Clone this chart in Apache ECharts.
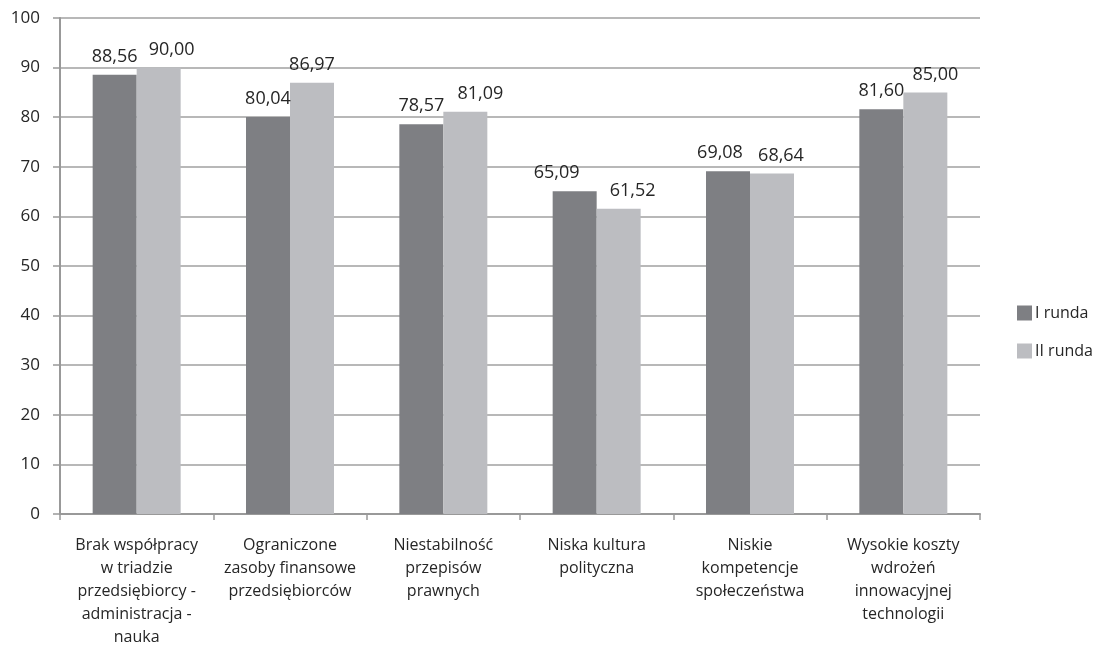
<!DOCTYPE html>
<html>
<head>
<meta charset="utf-8">
<script src="https://cdn.jsdelivr.net/npm/echarts@6/dist/echarts.min.js"></script>
<style>
    html, body { margin: 0; padding: 0; background: #fff; }
    #chart { width: 1094px; height: 649px; }
</style>
</head>
<body>
<div id="chart"></div>
<script>
    // kategorie (osie X)
    const categories = [
        'Brak współpracy\nw triadzie\nprzedsiębiorcy -\nadministracja -\nnauka',
        'Ograniczone\nzasoby finansowe\nprzedsiębiorców',
        'Niestabilność\nprzepisów\nprawnych',
        'Niska kultura\npolityczna',
        'Niskie\nkompetencje\nspołeczeństwa',
        'Wysokie koszty\nwdrożeń\ninnowacyjnej\ntechnologii'
    ];
    const round1 = [88.56, 80.04, 78.57, 65.09, 69.08, 81.60];
    const round2 = [90.00, 86.97, 81.09, 61.52, 68.64, 85.00];
    const seriesNames = ['I runda', 'II runda'];

    // przesunięcia etykiet (ręcznie rozsunięte jak w oryginale)
    const labelShift1 = [0, 0, 0, -18, -8, 0];
    const labelShift2 = [13, 0, 15, 14, 9, 10];

    const font = 'Open Sans, Noto Sans, sans-serif';
    const chart = echarts.init(document.getElementById('chart'));

    const labelCfg = {
        show: true,
        position: 'top',
        distance: 9,
        color: '#262626',
        fontFamily: font,
        fontSize: 18,
        formatter: (p) => p.value.toFixed(2).replace('.', ',')
    };

    const toItems = (values, shifts) => values.map((v, i) => ({
        value: v,
        label: { offset: [shifts[i], 0] }
    }));

    chart.setOption({
        animation: false,
        grid: {
            left: 60,
            right: 114,
            top: 18,
            bottom: 134
        },
        legend: {
            orient: 'vertical',
            left: 1012,
            top: 300,
            itemWidth: 15,
            itemHeight: 15,
            itemGap: 22,
            icon: 'rect',
            textStyle: { fontFamily: font, fontSize: 16, color: '#262626', padding: [0, 0, 0, -2] },
            data: seriesNames
        },
        xAxis: {
            type: 'category',
            data: categories,
            axisLine: { lineStyle: { color: '#999', width: 2 } },
            axisTick: { show: true, length: 6, lineStyle: { color: '#999', width: 1.5 } },
            axisLabel: {
                interval: 0,
                margin: 20,
                color: '#262626',
                fontFamily: font,
                fontSize: 16,
                lineHeight: 23
            }
        },
        yAxis: {
            type: 'value',
            min: 0,
            max: 100,
            interval: 10,
            axisLine: { show: true, lineStyle: { color: '#999', width: 2 } },
            axisTick: { show: true, length: 7, lineStyle: { color: '#999', width: 1.5 } },
            axisLabel: { color: '#262626', fontFamily: font, fontSize: 17, margin: 20 },
            splitLine: { lineStyle: { color: '#a0a0a0', width: 1.5 } }
        },
        series: [
            {
                name: seriesNames[0],
                type: 'bar',
                data: toItems(round1, labelShift1),
                barWidth: 44,
                barGap: '0%',
                itemStyle: { color: '#7e7f83' },
                label: labelCfg
            },
            {
                name: seriesNames[1],
                type: 'bar',
                data: toItems(round2, labelShift2),
                barWidth: 44,
                itemStyle: { color: '#bcbdc1' },
                label: labelCfg
            }
        ]
    });
</script>
</body>
</html>
